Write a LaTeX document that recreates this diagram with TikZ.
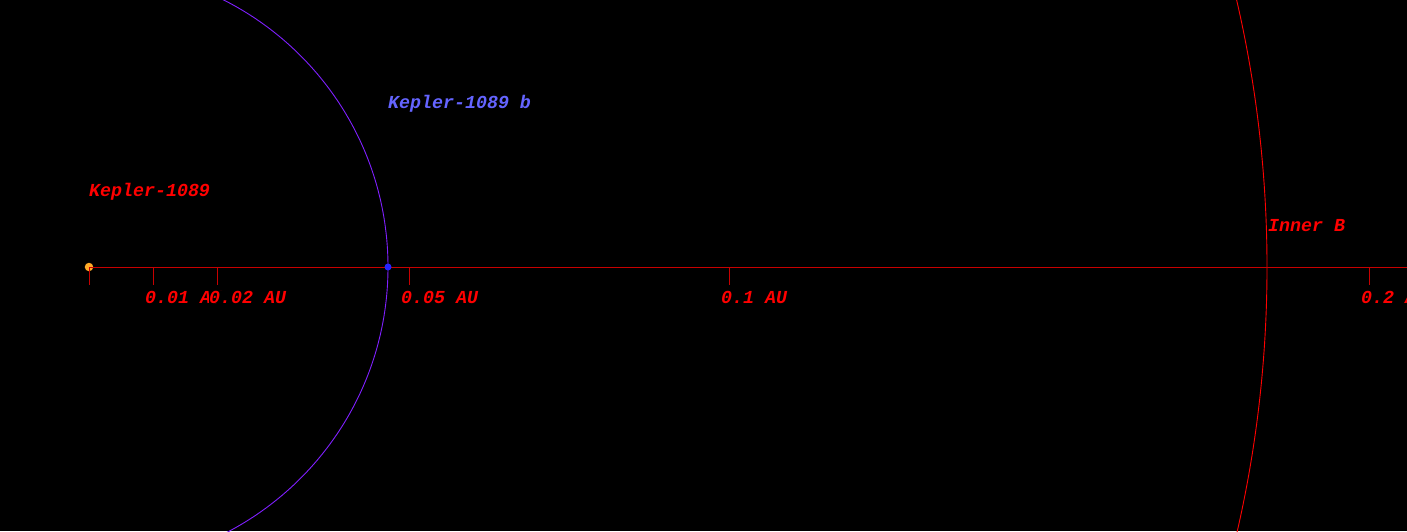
\documentclass[tikz,border=0pt]{standalone}
\usepackage{fontspec}
\usepackage{tikz}
\usetikzlibrary{positioning}
\newfontfamily\orbitfont{Liberation Mono}
\definecolor{AxisRed}{RGB}{200,0,0}
\definecolor{LabelRed}{RGB}{255,0,0}
\definecolor{OrbitViolet}{RGB}{128,32,255}
\definecolor{PlanetBlue}{RGB}{36,36,255}
\definecolor{PlanetLabel}{RGB}{100,100,255}
\definecolor{StarOrange}{RGB}{255,170,40}

\begin{document}
\begin{tikzpicture}[
  x=1pt, y=1pt,
  lab/.style={font=\orbitfont\bfseries\itshape\fontsize{18.3}{18.3}\selectfont, text=LabelRed, inner sep=0pt, anchor=base west},
  ticklab/.style={lab, fill=black},
  tickmark/.style={draw=AxisRed, line width=0.9pt},
  orbit/.style={line width=0.9pt},
  body/.style={circle, inner sep=0pt},
]
\fill[black] (-89,-264) rectangle (1318,267);
\clip (-89,-264) rectangle (1318,267);
% orbits, centred on the star
\draw[orbit, draw=OrbitViolet] (0,0) circle (299);
\draw[orbit, draw=LabelRed] (0,0) circle (1178);
% axis and ticks
\coordinate (axisend) at (1318,0);
\node[body, fill=StarOrange, minimum size=8.5pt] (star) at (0,0) {};
\draw[tickmark] (star.center) -- (axisend);
\draw[tickmark] (0,0) -- (0,-18);
\draw[tickmark] (64,0) -- (64,-18);
\draw[tickmark] (128,0) -- (128,-18);
\draw[tickmark] (320,0) -- (320,-18);
\draw[tickmark] (640,0) -- (640,-18);
\draw[tickmark] (1280,0) -- (1280,-18);
\node[ticklab] (t1) at (56,-36) {0.01 AU};
\node[ticklab] (t2) at (120,-36) {0.02 AU};
\node[ticklab] (t5) at (312,-36) {0.05 AU};
\node[ticklab] (t10) at (632,-36) {0.1 AU};
\node[ticklab] (t20) at (1272,-36) {0.2 AU};
% bodies and names
\node[body, fill=PlanetBlue, minimum size=7pt] (planet) at (299,0) {};
\node[lab] (starname) at (0,71) {Kepler-1089};
\node[lab, text=PlanetLabel] (planetname) at (299,159) {Kepler-1089 b};
\node[lab] (innerb) at (1179,36) {Inner B};
\end{tikzpicture}
\end{document}
